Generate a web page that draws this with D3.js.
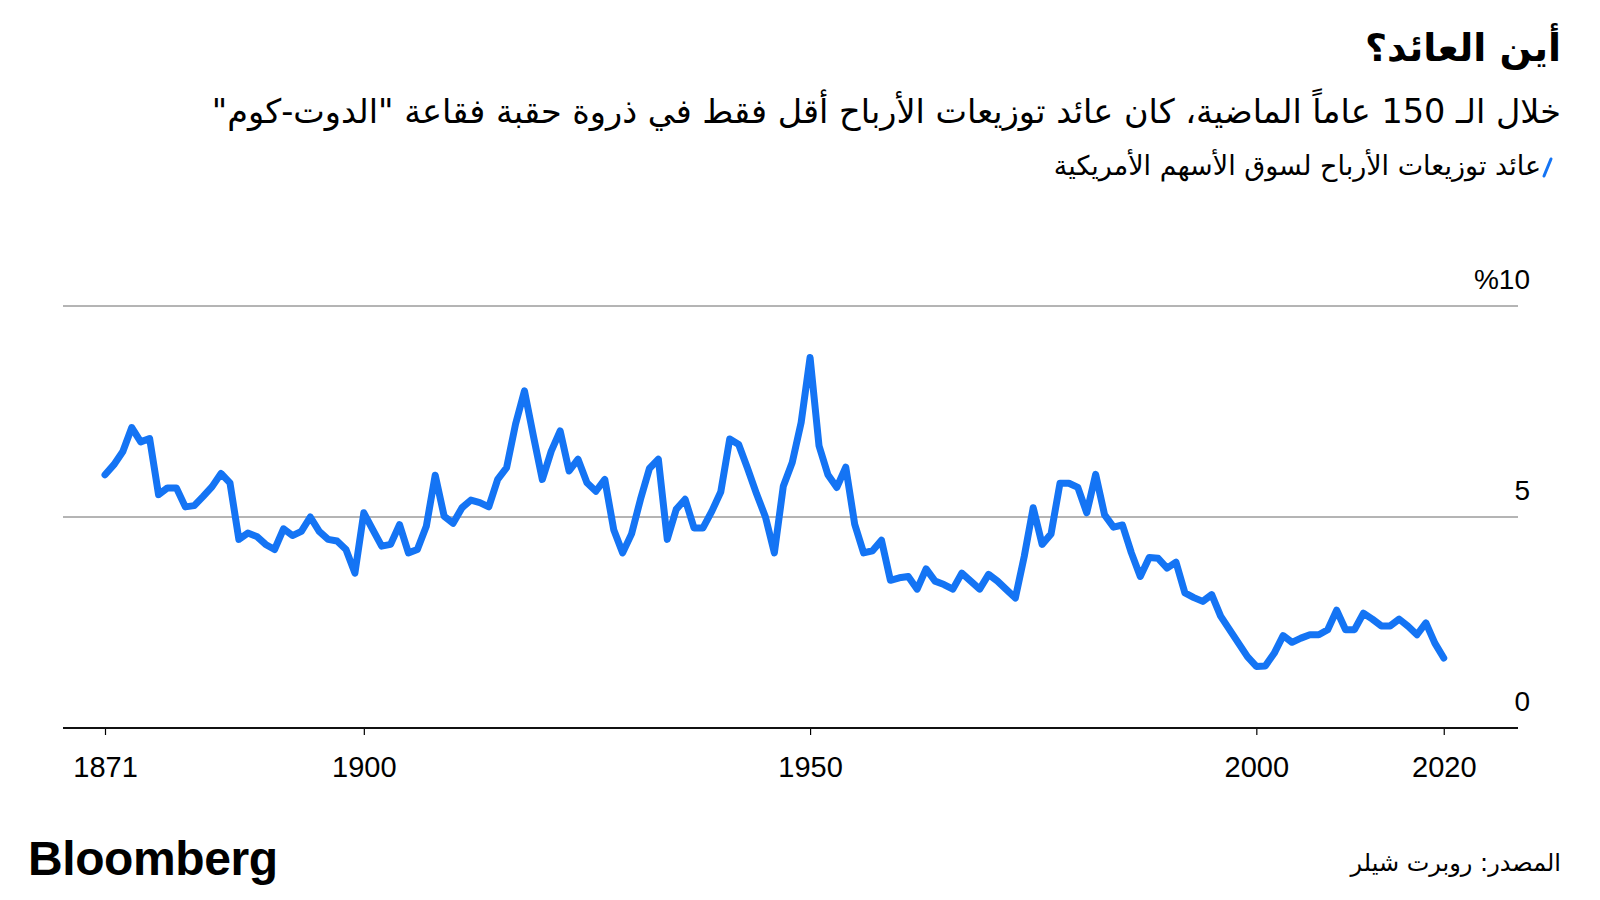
<!DOCTYPE html>
<html>
<head>
<meta charset="utf-8">
<script src="https://cdn.jsdelivr.net/npm/d3@7"></script>
<style>
  html, body { margin: 0; padding: 0; background: #fff; }
  #wrap { position: relative; width: 1600px; height: 900px; overflow: hidden; background: #fff; }
  svg { position: absolute; left: 0; top: 0; }
  .ar { position: absolute; direction: rtl; text-align: right; white-space: nowrap; color: #000;
        font-family: "DejaVu Sans", "Noto Sans", sans-serif; line-height: 1.2; }
</style>
</head>
<body>
<div id="wrap">
  <svg id="chart" width="1600" height="900"></svg>
  <div class="ar" id="title" style="right:39px; top:26px; font-size:38px; font-weight:bold;"></div>
  <div class="ar" id="subtitle" style="right:39px; top:92px; font-size:33.5px;"></div>
  <div class="ar" id="legend" style="right:59px; top:150px; font-size:27px;"></div>
  <div class="ar" id="source" style="right:39px; top:849px; font-size:24px;"></div>
</div>
<script>
// ---- Data (Shiller, US stock market dividend yield, %) ----
const years = d3.range(1871, 2022);
const dividendYield = [
  6.00, 6.24, 6.55, 7.12, 6.78, 6.86, 5.53, 5.69, 5.69, 5.24,
  5.27, 5.49, 5.72, 6.03, 5.81, 4.47, 4.62, 4.54, 4.35, 4.23,
  4.72, 4.56, 4.66, 5.00, 4.66, 4.47, 4.43, 4.23, 3.67, 5.10,
  4.70, 4.31, 4.35, 4.82, 4.15, 4.23, 4.78, 5.99, 5.02, 4.85,
  5.22, 5.40, 5.34, 5.24, 5.89, 6.17, 7.20, 7.99, 6.92, 5.89,
  6.56, 7.04, 6.09, 6.37, 5.81, 5.61, 5.89, 4.70, 4.15, 4.60,
  5.42, 6.15, 6.37, 4.47, 5.18, 5.42, 4.74, 4.74, 5.14, 5.60,
  6.85, 6.72, 6.15, 5.55, 5.00, 4.15, 5.73, 6.29, 7.24, 8.78,
  6.69, 6.00, 5.70, 6.18, 4.83, 4.15, 4.20, 4.45, 3.50, 3.56,
  3.59, 3.29, 3.77, 3.48, 3.40, 3.29, 3.67, 3.48, 3.29, 3.64,
  3.48, 3.28, 3.08, 4.07, 5.22, 4.35, 4.60, 5.80, 5.80, 5.70,
  5.10, 6.01, 5.05, 4.76, 4.81, 4.15, 3.59, 4.04, 4.02, 3.79,
  3.93, 3.20, 3.09, 3.00, 3.16, 2.65, 2.33, 2.01, 1.69, 1.46,
  1.47, 1.77, 2.19, 2.03, 2.13, 2.21, 2.21, 2.33, 2.79, 2.33,
  2.33, 2.72, 2.58, 2.42, 2.42, 2.58, 2.41, 2.21, 2.49, 2.01,
  1.66
];
const xTickValues = [1871, 1900, 1950, 2000, 2021];
const xTickLabels = ["1871", "1900", "1950", "2000", "2020"];
const yTickValues = [0, 5, 10];
const yTickLabels = ["0", "5", "%10"];

const titleText = "أين العائد؟";
const subtitleText = "خلال الـ 150 عاماً الماضية، كان عائد توزيعات الأرباح أقل فقط في ذروة حقبة فقاعة \"الدوت-كوم\"";
const legendText = "عائد توزيعات الأرباح لسوق الأسهم الأمريكية";
const sourceText = "المصدر: روبرت شيلر";

// ---- Layout ----
const plotLeft = 63, plotRight = 1518;
const x = d3.scaleLinear().domain([1871, 2021]).range([105, 1443.75]);
const y = d3.scaleLinear().domain([0, 10]).range([728, 306]);
const lineColor = "#1474f4";

const svg = d3.select("#chart");

// gridlines
svg.append("g").selectAll("line")
  .data(yTickValues.filter(v => v > 0))
  .join("line")
  .attr("x1", plotLeft).attr("x2", plotRight)
  .attr("y1", d => y(d)).attr("y2", d => y(d))
  .attr("stroke", "#6b6b6b").attr("stroke-width", 1);

// y labels
svg.append("g").selectAll("text")
  .data(yTickValues)
  .join("text")
  .attr("x", 1530)
  .attr("y", d => y(d) - 17)
  .attr("text-anchor", "end")
  .attr("font-family", "Liberation Sans, Arial, sans-serif")
  .attr("font-size", 28)
  .attr("fill", "#000")
  .text((d, i) => yTickLabels[i]);

// x axis
const xAxis = d3.axisBottom(x)
  .tickValues(xTickValues)
  .tickSize(7)
  .tickPadding(21)
  .tickFormat((d, i) => xTickLabels[i]);

const gx = svg.append("g")
  .attr("transform", `translate(0,${y(0)})`)
  .call(xAxis);
gx.select(".domain").remove();
gx.selectAll(".tick line").attr("stroke", "#000").attr("stroke-width", 1.2);
gx.selectAll(".tick text")
  .attr("font-family", "Liberation Sans, Arial, sans-serif")
  .attr("font-size", 29)
  .attr("fill", "#000");
svg.append("line")
  .attr("x1", plotLeft).attr("x2", plotRight)
  .attr("y1", y(0)).attr("y2", y(0))
  .attr("stroke", "#111").attr("stroke-width", 2.2);

// data line
const line = d3.line()
  .x((d, i) => x(years[i]))
  .y(d => y(d));
svg.append("path")
  .datum(dividendYield)
  .attr("d", line)
  .attr("fill", "none")
  .attr("stroke", lineColor)
  .attr("stroke-width", 7)
  .attr("stroke-linejoin", "round")
  .attr("stroke-linecap", "round");

// legend slash
svg.append("line")
  .attr("x1", 1544).attr("y1", 176)
  .attr("x2", 1551).attr("y2", 159)
  .attr("stroke", lineColor).attr("stroke-width", 3)
  .attr("stroke-linecap", "round");

// Bloomberg wordmark
svg.append("text")
  .attr("x", 28).attr("y", 875)
  .attr("font-family", "Liberation Sans, Arial, sans-serif")
  .attr("font-weight", "bold")
  .attr("font-size", 48)
  .attr("letter-spacing", -0.4)
  .attr("fill", "#000")
  .text("Bloomberg");

// texts
d3.select("#title").text(titleText);
d3.select("#subtitle").text(subtitleText);
d3.select("#legend").text(legendText);
d3.select("#source").text(sourceText);
</script>
</body>
</html>
